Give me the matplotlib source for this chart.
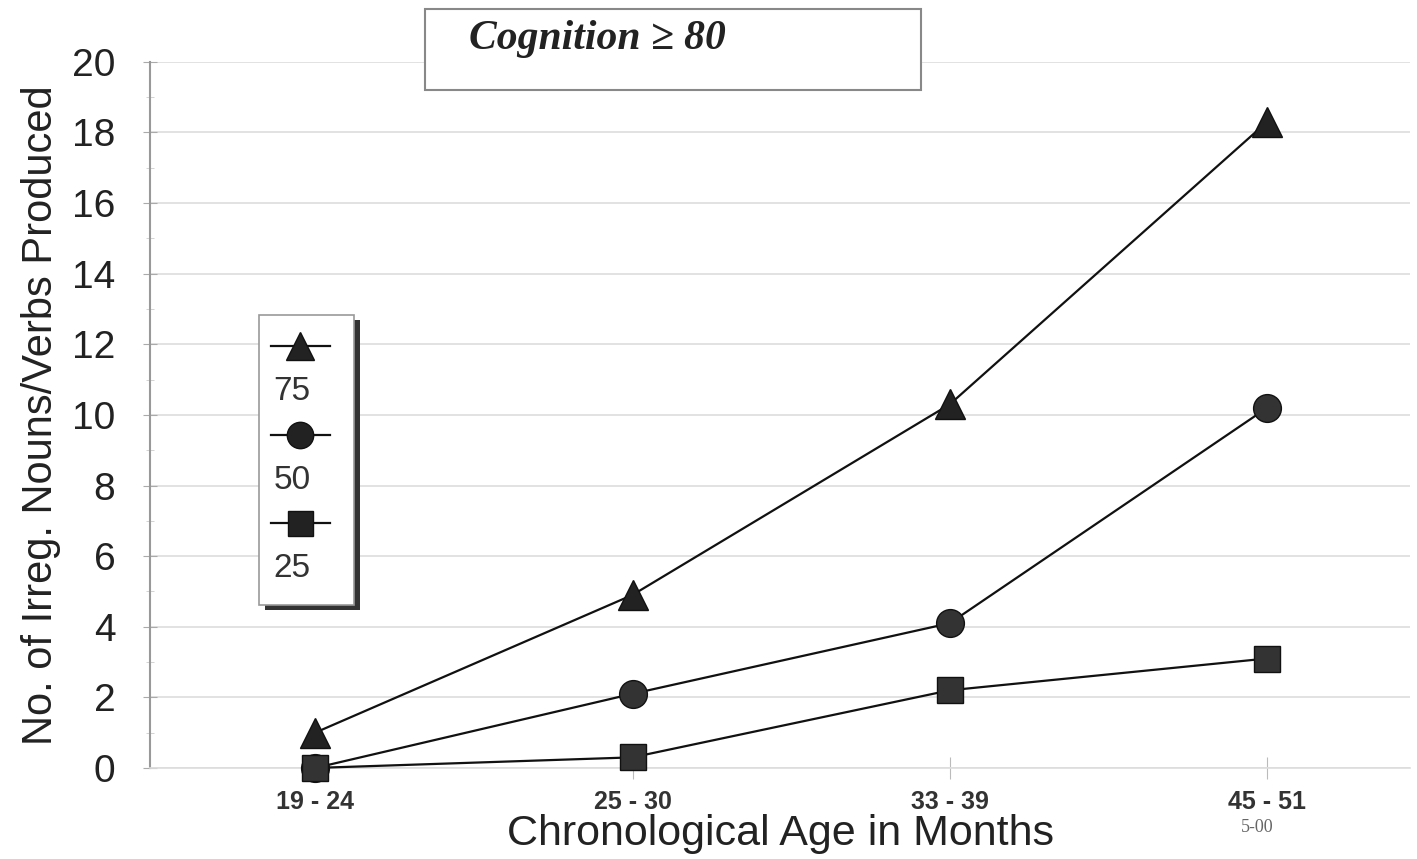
import matplotlib
matplotlib.use("Agg")
import matplotlib.pyplot as plt
from matplotlib.lines import Line2D
from matplotlib.patches import Rectangle
from matplotlib.ticker import MultipleLocator

categories = ["19 - 24", "25 - 30", "33 - 39", "45 - 51"]
p75 = [1.0, 4.9, 10.3, 18.3]
p50 = [0.0, 2.1, 4.1, 10.2]
p25 = [0.0, 0.3, 2.2, 3.1]
series_labels = ["75", "50", "25"]
yticks = list(range(0, 21, 2))

plt.rcParams['font.family'] = ['Liberation Sans', 'DejaVu Sans']

fig = plt.figure(figsize=(14.17, 8.59), dpi=100)
ax = fig.add_axes([0.106, 0.106, 0.889, 0.822])

x = list(range(len(categories)))
ms = 21
ax.plot(x, p75, color='#111111', lw=1.6, marker='^', ms=ms, mfc='#222222', mec='#111111', clip_on=False, zorder=3)
ax.plot(x, p50, color='#111111', lw=1.6, marker='o', ms=ms - 1, mfc='#333333', mec='#111111', clip_on=False, zorder=3)
ax.plot(x, p25, color='#111111', lw=1.6, marker='s', ms=ms - 2, mfc='#333333', mec='#111111', clip_on=False, zorder=3)

ax.set_xlim(-0.52, 3.45)
ax.set_ylim(0, 20)
ax.set_yticks(yticks)
ax.yaxis.set_minor_locator(MultipleLocator(1))
ax.set_yticklabels([str(v) for v in yticks], fontsize=28, color='#222222')
ax.set_xticks(x)
ax.set_xticklabels(categories, fontsize=18, fontweight='bold', color='#333333')
ax.grid(axis='y', which='major', color='#dddddd', lw=1.2)
ax.set_axisbelow(True)
for s in ['top', 'right']:
    ax.spines[s].set_visible(False)
ax.spines['left'].set_color('#999999')
ax.spines['left'].set_linewidth(1.5)
ax.spines['bottom'].set_color('#dddddd')
ax.spines['bottom'].set_linewidth(1.2)
ax.tick_params(axis='y', which='major', direction='inout', length=10, color='#aaaaaa', pad=20)
ax.tick_params(axis='y', which='minor', direction='inout', length=6, color='#cccccc')
ax.tick_params(axis='x', direction='inout', length=16, color='#bbbbbb', pad=8)

ax.set_ylabel("No. of Irreg. Nouns/Verbs Produced", fontsize=30, color='#222222', labelpad=8)
ax.set_xlabel("Chronological Age in Months", fontsize=31, color='#222222', labelpad=0)

fig.text(0.887, 0.032, "5-00", fontsize=13, family='Liberation Serif', color='#666666', ha='center')

# Title box
fig.patches.append(Rectangle((0.300, 0.895), 0.350, 0.095, transform=fig.transFigure,
                             fill=True, facecolor='white', edgecolor='#888888', lw=1.5, zorder=5))
fig.text(0.331, 0.955, "Cognition \u2265 80", fontsize=30, fontweight='bold', style='italic',
         family=['Liberation Serif', 'DejaVu Serif'], color='#222222', va='center', ha='left', zorder=6)

# Legend box
lx, ly, lw_, lh = 0.183, 0.296, 0.067, 0.337
fig.patches.append(Rectangle((lx + 0.004, ly - 0.006), lw_, lh, transform=fig.transFigure,
                             facecolor='#333333', edgecolor='none', zorder=5))
fig.patches.append(Rectangle((lx, ly), lw_, lh, transform=fig.transFigure,
                             facecolor='white', edgecolor='#999999', lw=1.2, zorder=6))
markers = [('^', 20), ('o', 19), ('s', 18)]
row_y = [0.597, 0.494, 0.391]
for (m, msz), yy, lab in zip(markers, row_y, series_labels):
    fig.lines.append(Line2D([0.191, 0.212, 0.233], [yy, yy, yy], transform=fig.transFigure,
                            color='#111111', lw=1.6, marker=m, markevery=[1], ms=msz,
                            mfc='#222222', mec='#111111', zorder=7))
    fig.text(0.193, yy - 0.053, lab, fontsize=24, color='#333333', va='center', ha='left', zorder=7)

fig.savefig("out.png", dpi=100, facecolor='white')
